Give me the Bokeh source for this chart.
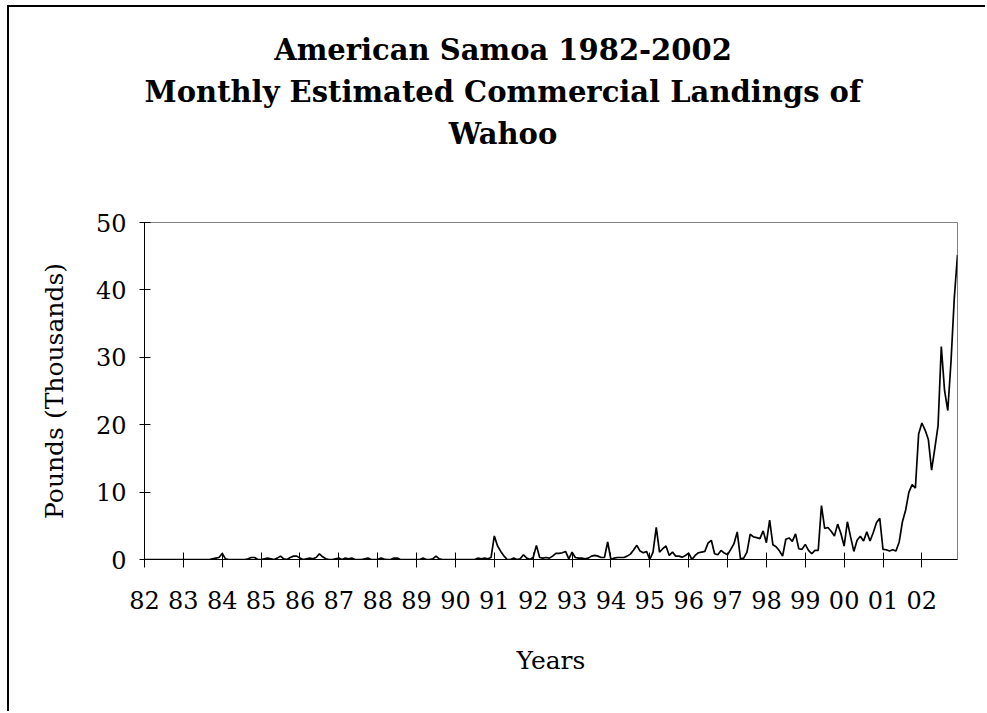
from bokeh.plotting import figure
from bokeh.models import FixedTicker, Range1d, Div
from bokeh.layouts import column
from bokeh.embed import file_html
from bokeh.resources import INLINE

# Tick labels (two-digit years)
year_labels = ["82", "83", "84", "85", "86", "87", "88", "89", "90", "91", "92",
               "93", "94", "95", "96", "97", "98", "99", "00", "01", "02"]

# Monthly estimated landings (thousands of pounds), Jan..Dec of each year
y1982 = [0, 0, 0, 0, 0, 0, 0, 0, 0, 0, 0, 0]
y1983 = [0, 0, 0, 0, 0, 0, 0, 0, 0, 0.1, 0.2, 0.3]
y1984 = [0.9, 0.1, 0, 0, 0, 0, 0, 0, 0.1, 0.3, 0.3, 0]
y1985 = [0, 0.1, 0.2, 0.1, 0, 0.2, 0.5, 0.1, 0, 0.3, 0.5, 0.5]
y1986 = [0.2, 0, 0.1, 0.2, 0.1, 0.3, 0.85, 0.4, 0.1, 0, 0, 0.1]
y1987 = [0.2, 0, 0.2, 0.1, 0.2, 0, 0, 0, 0.1, 0.2, 0, 0]
y1988 = [0, 0.2, 0.05, 0, 0, 0.2, 0.2, 0, 0, 0, 0, 0]
y1989 = [0, 0, 0.2, 0, 0, 0.1, 0.5, 0.1, 0, 0, 0, 0]
y1990 = [0, 0, 0, 0, 0, 0, 0, 0.2, 0.1, 0.2, 0.1, 0.3]
y1991 = [3.5, 2.0, 1.2, 0.5, 0, 0, 0.2, 0, 0.1, 0.7, 0.2, 0]
y1992 = [0.3, 2.1, 0.3, 0.2, 0.3, 0.2, 0.5, 0.9, 0.9, 1.0, 1.2, 0.1]
y1993 = [1.1, 0.3, 0.2, 0.2, 0.1, 0.2, 0.5, 0.6, 0.5, 0.3, 0.3, 2.6]
y1994 = [0, 0.2, 0.3, 0.3, 0.3, 0.5, 0.8, 1.4, 2.1, 1.25, 1.0, 1.2]
y1995 = [0, 1.1, 4.75, 1.1, 1.6, 2.0, 0.6, 1.1, 0.5, 0.5, 0.35, 0.6]
y1996 = [0.95, 0, 0.6, 1.0, 1.1, 1.2, 2.45, 2.85, 0.85, 0.7, 1.35, 0.95]
y1997 = [0.7, 1.5, 2.35, 4.1, 0.1, 0.2, 1.1, 3.75, 3.35, 3.25, 3.1, 4.25]
y1998 = [2.5, 5.85, 2.2, 1.9, 1.3, 0.5, 3.0, 3.2, 2.7, 3.8, 1.6, 1.5]
y1999 = [2.25, 1.35, 0.85, 1.35, 1.35, 8.0, 4.6, 4.75, 4.2, 3.5, 5.25, 3.85]
y2000 = [2.0, 5.6, 3.35, 1.2, 2.85, 3.45, 2.75, 4.1, 2.75, 4.0, 5.5, 6.1]
y2001 = [1.5, 1.45, 1.25, 1.45, 1.25, 2.6, 5.6, 7.35, 10.0, 11.1, 10.6, 18.6]
y2002 = [20.25, 19.2, 17.8, 13.25, 16.5, 19.85, 31.6, 25.1, 22.1, 29.4, 38.7, 45.2]

yearly = [y1982, y1983, y1984, y1985, y1986, y1987, y1988, y1989, y1990, y1991, y1992,
          y1993, y1994, y1995, y1996, y1997, y1998, y1999, y2000, y2001, y2002]
values = [v for yr in yearly for v in yr]
months = list(range(len(values)))

title_lines = ["American Samoa 1982-2002",
               "Monthly Estimated Commercial Landings of",
               "Wahoo"]

SERIF = "DejaVu Serif"
W = 976

title_html = ('<div style="box-sizing:border-box; font-family:\'DejaVu Serif\',serif; '
              'font-weight:bold; font-size:29px; line-height:42px; text-align:center; '
              'color:black; padding-top:22px; padding-left:12px; width:%dpx;">%s</div>'
              % (W, "<br>".join(title_lines)))
title_div = Div(text=title_html, width=W, height=150, margin=0)

p = figure(width=W, height=554, output_backend="svg", toolbar_location=None,
           x_range=Range1d(0, len(values) - 1), y_range=Range1d(0, 50),
           min_border_left=135, min_border_right=28, min_border_top=65,
           min_border_bottom=152)
p.title.visible = False

p.background_fill_color = "white"
p.border_fill_color = "white"
p.outline_line_color = "#808080"
p.outline_line_width = 1
p.xgrid.visible = False
p.ygrid.visible = False

p.line(months, values, line_color="black", line_width=1.7)

# X axis
xa = p.xaxis[0]
xa.ticker = FixedTicker(ticks=[12 * k for k in range(len(year_labels))])
xa.major_label_overrides = {12 * k: lab for k, lab in enumerate(year_labels)}
xa.minor_tick_line_color = None
xa.major_tick_in = 7
xa.major_tick_out = 8
xa.axis_line_color = "black"
xa.major_tick_line_color = "black"
xa.major_label_text_font = SERIF
xa.major_label_text_font_size = "24px"
xa.major_label_text_color = "black"
xa.major_label_standoff = 23
xa.axis_label = "Years"
xa.axis_label_text_font = SERIF
xa.axis_label_text_font_size = "25px"
xa.axis_label_text_font_style = "normal"
xa.axis_label_text_color = "black"
xa.axis_label_standoff = 34

# Y axis
ya = p.yaxis[0]
ya.ticker = FixedTicker(ticks=[0, 10, 20, 30, 40, 50])
ya.minor_tick_line_color = None
ya.major_tick_in = 6
ya.major_tick_out = 5
ya.axis_line_color = "black"
ya.major_tick_line_color = "black"
ya.major_label_text_font = SERIF
ya.major_label_text_font_size = "24px"
ya.major_label_text_color = "black"
ya.major_label_standoff = 13
ya.axis_label = "Pounds (Thousands)"
ya.axis_label_text_font = SERIF
ya.axis_label_text_font_size = "25px"
ya.axis_label_text_font_style = "normal"
ya.axis_label_text_color = "black"
ya.axis_label_standoff = 24

layout = column(title_div, p, spacing=0)
layout.styles = {"border-left": "2px solid black", "border-top": "2px solid black",
                 "margin-left": "7px", "margin-top": "5px"}

open("out.html", "w").write(file_html(layout, INLINE))
